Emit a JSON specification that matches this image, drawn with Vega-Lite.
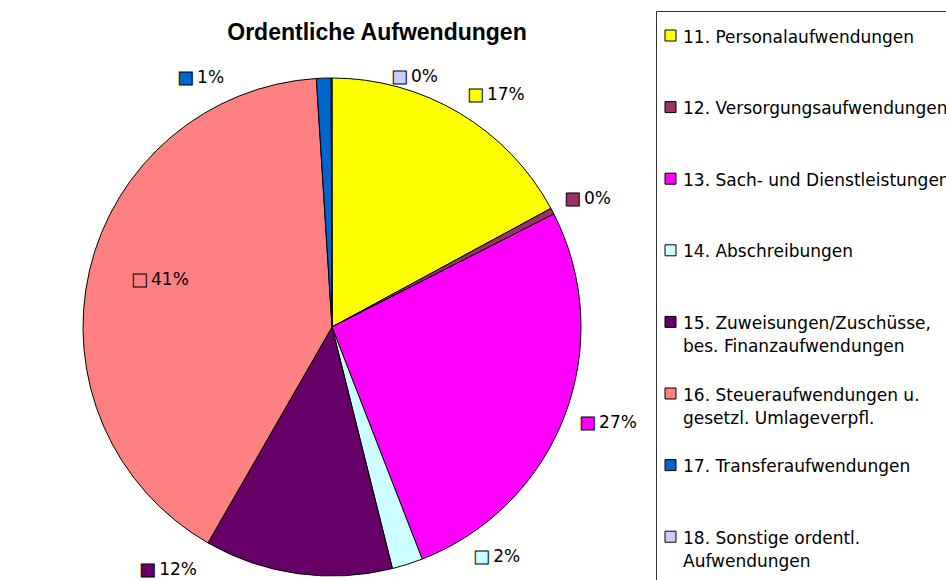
{
  "$schema": "https://vega.github.io/schema/vega-lite/v6.json",
  "width": 937,
  "height": 572,
  "autosize": {"type": "none"},
  "padding": {"left": 9, "top": 8, "right": 0, "bottom": 0},
  "background": "white",
  "title": {"text": "Ordentliche Aufwendungen", "font": "Liberation Sans", "fontSize": 23, "fontWeight": "bold", "color": "black", "anchor": "middle", "frame": "group", "offset": -48, "dx": -100.5},
  "data": {"values": [
    {"cat": "11. Personalaufwendungen", "share": 0.171},
    {"cat": "12. Versorgungsaufwendungen", "share": 0.004},
    {"cat": "13. Sach- und Dienstleistungen", "share": 0.266},
    {"cat": "14. Abschreibungen", "share": 0.020},
    {"cat": "15. Zuweisungen/Zuschüsse, bes. Finanzaufwendungen", "share": 0.122},
    {"cat": "16. Steueraufwendungen u. gesetzl. Umlageverpfl.", "share": 0.407},
    {"cat": "17. Transferaufwendungen", "share": 0.0095},
    {"cat": "18. Sonstige ordentl. Aufwendungen", "share": 0.0005}
  ]},
  "layer": [
    {
      "mark": {"type": "arc", "radius": 249, "stroke": "black", "strokeWidth": 1, "xOffset": -145.5, "yOffset": 33},
      "encoding": {
        "theta": {"field": "share", "type": "quantitative", "stack": true},
        "order": {"field": "cat", "type": "ordinal", "sort": "ascending"},
        "color": {
          "field": "cat", "type": "nominal",
          "scale": {
            "domain": ["11. Personalaufwendungen", "12. Versorgungsaufwendungen", "13. Sach- und Dienstleistungen", "14. Abschreibungen", "15. Zuweisungen/Zuschüsse, bes. Finanzaufwendungen", "16. Steueraufwendungen u. gesetzl. Umlageverpfl.", "17. Transferaufwendungen", "18. Sonstige ordentl. Aufwendungen"],
            "range": ["#FFFF00", "#993366", "#FF00FF", "#CCFFFF", "#660066", "#FF8080", "#0066CC", "#CCCCFF"]
          },
          "legend": {
            "orient": "none", "legendX": 647, "legendY": 3,
            "title": " ", "titleFontSize": 10, "titlePadding": 0,
            "padding": 6, "rowPadding": 29.6, "labelOffset": 4,
            "strokeColor": "#333333", "fillColor": "white",
            "symbolType": "square", "symbolSize": 121, "symbolStrokeColor": "black", "symbolStrokeWidth": 1, "symbolOpacity": 1,
            "labelFont": "DejaVu Sans", "labelFontSize": 17, "labelColor": "black", "labelLimit": 1000, "labelBaseline": "top",
            "labelExpr": "datum.value == '15. Zuweisungen/Zuschüsse, bes. Finanzaufwendungen' ? ['15. Zuweisungen/Zuschüsse,', 'bes. Finanzaufwendungen'] : datum.value == '16. Steueraufwendungen u. gesetzl. Umlageverpfl.' ? ['16. Steueraufwendungen u.', 'gesetzl. Umlageverpfl.'] : datum.value == '18. Sonstige ordentl. Aufwendungen' ? ['18. Sonstige ordentl.', 'Aufwendungen', ' '] : [datum.label, ' ']",
            "encode": {"labels": {"update": {"lineHeight": {"value": 23}, "dy": {"value": -6}}}}
          }
        }
      }
    },
    {"mark": {"type": "text", "radius": 282, "align": "center", "dx": -146.4, "dy": 43.3, "stroke": "black", "strokeWidth": 1},
     "encoding": {"theta": {"field": "share", "type": "quantitative", "stack": true}, "order": {"field": "cat", "type": "ordinal", "sort": "ascending"}, "color": {"field": "cat", "type": "nominal"},
       "text": {"condition": {"test": "slice(datum.cat,0,2)=='11'", "value": "■"}, "value": ""}}},
    {"mark": {"type": "text", "radius": 282, "align": "left", "dx": -134.9, "dy": 43.3, "fill": "black"},
     "encoding": {"theta": {"field": "share", "type": "quantitative", "stack": true}, "order": {"field": "cat", "type": "ordinal", "sort": "ascending"},
       "text": {"condition": {"test": "slice(datum.cat,0,2)=='11'", "field": "share", "type": "quantitative", "format": ".0%"}, "value": ""}}},
    {"mark": {"type": "text", "radius": 282, "align": "center", "dx": -154.7, "dy": 36.1, "stroke": "black", "strokeWidth": 1},
     "encoding": {"theta": {"field": "share", "type": "quantitative", "stack": true}, "order": {"field": "cat", "type": "ordinal", "sort": "ascending"}, "color": {"field": "cat", "type": "nominal"},
       "text": {"condition": {"test": "slice(datum.cat,0,2)=='12'", "value": "■"}, "value": ""}}},
    {"mark": {"type": "text", "radius": 282, "align": "left", "dx": -143.2, "dy": 36.1, "fill": "black"},
     "encoding": {"theta": {"field": "share", "type": "quantitative", "stack": true}, "order": {"field": "cat", "type": "ordinal", "sort": "ascending"},
       "text": {"condition": {"test": "slice(datum.cat,0,2)=='12'", "field": "share", "type": "quantitative", "format": ".0%"}, "value": ""}}},
    {"mark": {"type": "text", "radius": 282, "align": "center", "dx": -153.4, "dy": 28.4, "stroke": "black", "strokeWidth": 1},
     "encoding": {"theta": {"field": "share", "type": "quantitative", "stack": true}, "order": {"field": "cat", "type": "ordinal", "sort": "ascending"}, "color": {"field": "cat", "type": "nominal"},
       "text": {"condition": {"test": "slice(datum.cat,0,2)=='13'", "value": "■"}, "value": ""}}},
    {"mark": {"type": "text", "radius": 282, "align": "left", "dx": -141.9, "dy": 28.4, "fill": "black"},
     "encoding": {"theta": {"field": "share", "type": "quantitative", "stack": true}, "order": {"field": "cat", "type": "ordinal", "sort": "ascending"},
       "text": {"condition": {"test": "slice(datum.cat,0,2)=='13'", "field": "share", "type": "quantitative", "format": ".0%"}, "value": ""}}},
    {"mark": {"type": "text", "radius": 282, "align": "center", "dx": -81.3, "dy": -5.8, "stroke": "black", "strokeWidth": 1},
     "encoding": {"theta": {"field": "share", "type": "quantitative", "stack": true}, "order": {"field": "cat", "type": "ordinal", "sort": "ascending"}, "color": {"field": "cat", "type": "nominal"},
       "text": {"condition": {"test": "slice(datum.cat,0,2)=='14'", "value": "■"}, "value": ""}}},
    {"mark": {"type": "text", "radius": 282, "align": "left", "dx": -69.8, "dy": -5.8, "fill": "black"},
     "encoding": {"theta": {"field": "share", "type": "quantitative", "stack": true}, "order": {"field": "cat", "type": "ordinal", "sort": "ascending"},
       "text": {"condition": {"test": "slice(datum.cat,0,2)=='14'", "field": "share", "type": "quantitative", "format": ".0%"}, "value": ""}}},
    {"mark": {"type": "text", "radius": 282, "align": "center", "dx": -291, "dy": -3.3, "stroke": "black", "strokeWidth": 1},
     "encoding": {"theta": {"field": "share", "type": "quantitative", "stack": true}, "order": {"field": "cat", "type": "ordinal", "sort": "ascending"}, "color": {"field": "cat", "type": "nominal"},
       "text": {"condition": {"test": "slice(datum.cat,0,2)=='15'", "value": "■"}, "value": ""}}},
    {"mark": {"type": "text", "radius": 282, "align": "left", "dx": -279.5, "dy": -3.3, "fill": "black"},
     "encoding": {"theta": {"field": "share", "type": "quantitative", "stack": true}, "order": {"field": "cat", "type": "ordinal", "sort": "ascending"},
       "text": {"condition": {"test": "slice(datum.cat,0,2)=='15'", "field": "share", "type": "quantitative", "format": ".0%"}, "value": ""}}},
    {"mark": {"type": "text", "radius": 187, "align": "center", "dx": -155.9, "dy": 28.5, "stroke": "black", "strokeWidth": 1},
     "encoding": {"theta": {"field": "share", "type": "quantitative", "stack": true}, "order": {"field": "cat", "type": "ordinal", "sort": "ascending"}, "color": {"field": "cat", "type": "nominal"},
       "text": {"condition": {"test": "slice(datum.cat,0,2)=='16'", "value": "■"}, "value": ""}}},
    {"mark": {"type": "text", "radius": 187, "align": "left", "dx": -144.4, "dy": 28.5, "fill": "black"},
     "encoding": {"theta": {"field": "share", "type": "quantitative", "stack": true}, "order": {"field": "cat", "type": "ordinal", "sort": "ascending"},
       "text": {"condition": {"test": "slice(datum.cat,0,2)=='16'", "field": "share", "type": "quantitative", "format": ".0%"}, "value": ""}}},
    {"mark": {"type": "text", "radius": 282, "align": "center", "dx": -282.6, "dy": 65.9, "stroke": "black", "strokeWidth": 1},
     "encoding": {"theta": {"field": "share", "type": "quantitative", "stack": true}, "order": {"field": "cat", "type": "ordinal", "sort": "ascending"}, "color": {"field": "cat", "type": "nominal"},
       "text": {"condition": {"test": "slice(datum.cat,0,2)=='17'", "value": "■"}, "value": ""}}},
    {"mark": {"type": "text", "radius": 282, "align": "left", "dx": -271.1, "dy": 65.9, "fill": "black"},
     "encoding": {"theta": {"field": "share", "type": "quantitative", "stack": true}, "order": {"field": "cat", "type": "ordinal", "sort": "ascending"},
       "text": {"condition": {"test": "slice(datum.cat,0,2)=='17'", "field": "share", "type": "quantitative", "format": ".0%"}, "value": ""}}},
    {"mark": {"type": "text", "radius": 282, "align": "center", "dx": -77.5, "dy": 65, "stroke": "black", "strokeWidth": 1},
     "encoding": {"theta": {"field": "share", "type": "quantitative", "stack": true}, "order": {"field": "cat", "type": "ordinal", "sort": "ascending"}, "color": {"field": "cat", "type": "nominal"},
       "text": {"condition": {"test": "slice(datum.cat,0,2)=='18'", "value": "■"}, "value": ""}}},
    {"mark": {"type": "text", "radius": 282, "align": "left", "dx": -66, "dy": 65, "fill": "black"},
     "encoding": {"theta": {"field": "share", "type": "quantitative", "stack": true}, "order": {"field": "cat", "type": "ordinal", "sort": "ascending"},
       "text": {"condition": {"test": "slice(datum.cat,0,2)=='18'", "field": "share", "type": "quantitative", "format": ".0%"}, "value": ""}}}
  ],
  "config": {
    "view": {"stroke": "black", "strokeWidth": 1, "strokeDash": [937, 1509, 572], "fill": "white"},
    "text": {"font": "DejaVu Sans", "fontSize": 17, "baseline": "middle"}
  }
}
